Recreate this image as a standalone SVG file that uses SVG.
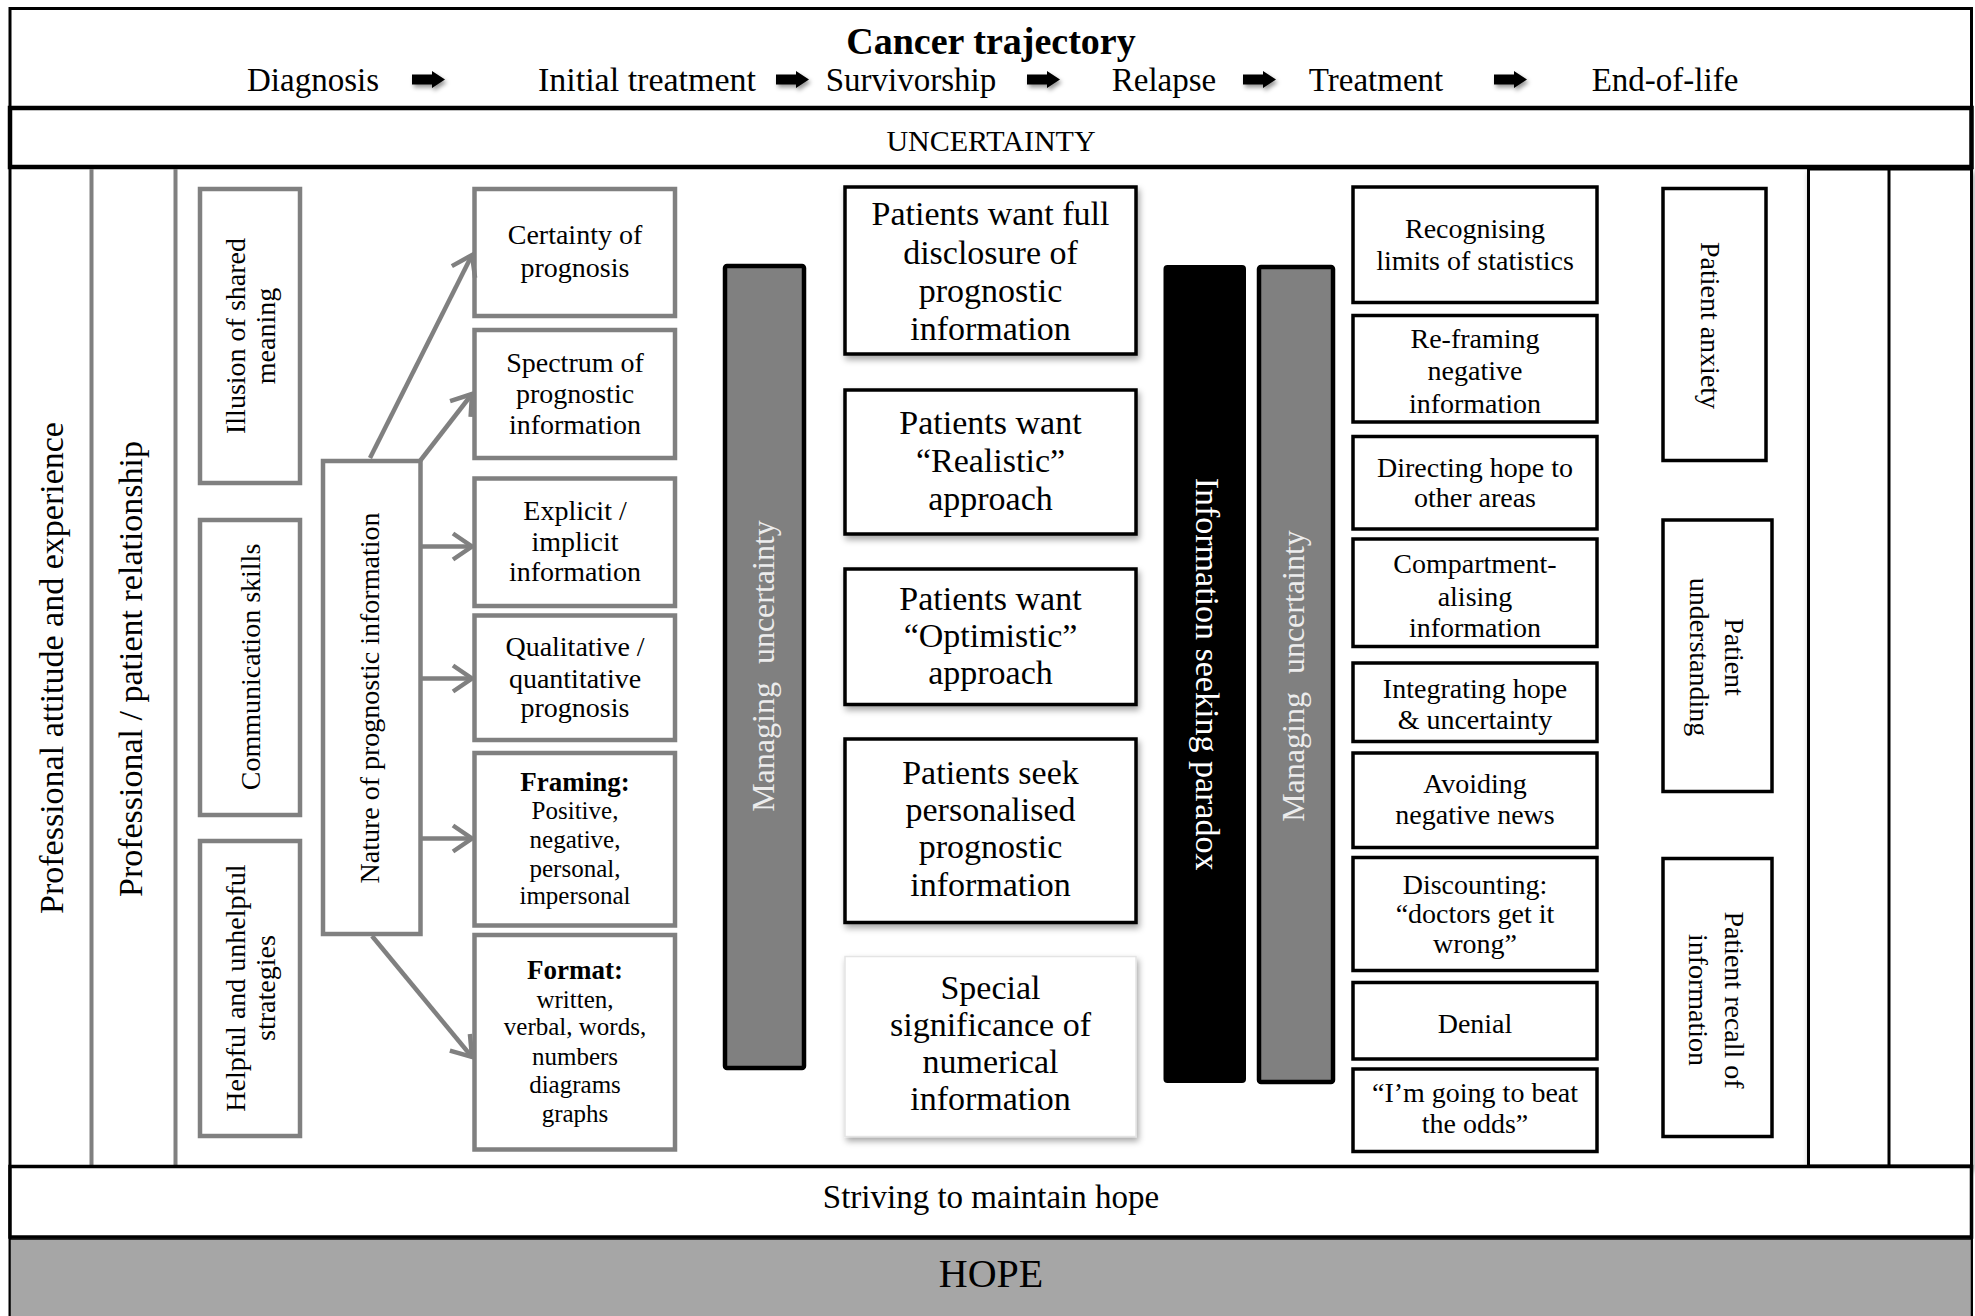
<svg xmlns="http://www.w3.org/2000/svg" width="1975" height="1316" viewBox="0 0 1975 1316">
<defs>
<style>
text{font-family:"Liberation Serif","Times New Roman",serif;fill:#000}
.c{text-anchor:middle}
.f28{font-size:28px}
.f34{font-size:34px}
.gbox{fill:#fff;stroke:#808080;stroke-width:4.5}
.bbox{fill:#fff;stroke:#000;stroke-width:3.5}
.cbox{fill:#fff;stroke:#000;stroke-width:3.5}
.conn{fill:none;stroke:#808080;stroke-width:4.5}
.wt{fill:#ececec}
</style>
<filter id="sh" x="-10%" y="-10%" width="130%" height="130%">
<feDropShadow dx="2" dy="4" stdDeviation="3" flood-color="#000" flood-opacity="0.35"/>
</filter>
<filter id="ash" x="-30%" y="-60%" width="170%" height="240%">
<feDropShadow dx="2" dy="3" stdDeviation="2" flood-color="#000" flood-opacity="0.4"/>
</filter>
<marker id="ah" viewBox="-22 -16 26 32" refX="0" refY="0" markerWidth="26" markerHeight="32" markerUnits="userSpaceOnUse" orient="auto">
<path d="M-19,-13 L0,0 L-19,13" fill="none" stroke="#808080" stroke-width="4.5" stroke-linejoin="miter"/>
</marker>
<path id="blk" d="M0,-5 L20,-5 L20,-8.5 L33,0 L20,8.5 L20,5 L0,5 Z"/>
</defs>

<rect x="0" y="0" width="1975" height="1316" fill="#fff"/>

<!-- frame -->
<g id="frame">
<rect x="10" y="8.5" width="1961.5" height="1320" fill="none" stroke="#000" stroke-width="3"/>
</g>

<!-- header -->
<g id="header">
<text x="991" y="54" class="c" style="font-size:38px;font-weight:bold">Cancer trajectory</text>
<text x="313" y="91" class="c" style="font-size:33px">Diagnosis</text>
<text x="647" y="91" class="c" style="font-size:34px">Initial treatment</text>
<text x="911" y="91" class="c" style="font-size:33px">Survivorship</text>
<text x="1164" y="91" class="c" style="font-size:33px">Relapse</text>
<text x="1376" y="91" class="c" style="font-size:33px">Treatment</text>
<text x="1665" y="91" class="c" style="font-size:33px">End-of-life</text>
<g filter="url(#ash)">
<use href="#blk" x="412" y="79.5"/>
<use href="#blk" x="776" y="79.5"/>
<use href="#blk" x="1027" y="79.5"/>
<use href="#blk" x="1243" y="79.5"/>
<use href="#blk" x="1494" y="79.5"/>
</g>
</g>

<!-- uncertainty band -->
<g id="uncertainty">
<rect x="10" y="108" width="1961.5" height="59" fill="#fff" stroke="#000" stroke-width="4.5"/>
<text x="991" y="150.5" class="c" style="font-size:30px">UNCERTAINTY</text>
</g>

<!-- left columns -->
<g id="prof-attitude">
<line x1="91.5" y1="169" x2="91.5" y2="1166" stroke="#808080" stroke-width="4"/>
<text transform="translate(63,668) rotate(-90)" class="c f34">Professional attitude and experience</text>
</g>
<g id="prof-relationship">
<line x1="175.5" y1="169" x2="175.5" y2="1166" stroke="#808080" stroke-width="4"/>
<text transform="translate(142,669) rotate(-90)" class="c f34">Professional / patient relationship</text>
</g>

<!-- right columns -->
<g id="right-columns">
<rect x="1808.5" y="169" width="163" height="997" fill="#fff" stroke="#000" stroke-width="3" filter="url(#sh)"/>
<line x1="1889" y1="169" x2="1889" y2="1166" stroke="#000" stroke-width="3"/>
</g>

<!-- left small boxes -->
<g id="illusion">
<rect x="200" y="189" width="100" height="294" class="gbox"/>
<text transform="translate(245,336) rotate(-90)" class="c f28"><tspan x="0" y="0">Illusion of shared</tspan><tspan x="0" y="30">meaning</tspan></text>
</g>
<g id="communication">
<rect x="200" y="520" width="100" height="295" class="gbox"/>
<text transform="translate(260,667) rotate(-90)" class="c f28">Communication skills</text>
</g>
<g id="helpful">
<rect x="200" y="841" width="100" height="295" class="gbox"/>
<text transform="translate(244.5,988) rotate(-90)" class="c f28"><tspan x="0" y="0">Helpful and unhelpful</tspan><tspan x="0" y="30">strategies</tspan></text>
</g>
<g id="nature">
<rect x="323" y="461" width="97.5" height="473" class="gbox"/>
<text transform="translate(379,698) rotate(-90)" class="c f28">Nature of prognostic information</text>
</g>

<g id="certainty">
<rect x="474.5" y="189" width="200.5" height="127" class="gbox"/>
<text x="575" y="244" class="c f28">Certainty of</text>
<text x="575" y="277" class="c f28">prognosis</text>
</g>
<g id="spectrum">
<rect x="474.5" y="330" width="200.5" height="128" class="gbox"/>
<text x="575" y="372" class="c f28">Spectrum of</text>
<text x="575" y="403" class="c f28">prognostic</text>
<text x="575" y="434" class="c f28">information</text>
</g>
<g id="explicit">
<rect x="474.5" y="478.5" width="200.5" height="127.5" class="gbox"/>
<text x="575" y="520" class="c f28">Explicit /</text>
<text x="575" y="551" class="c f28">implicit</text>
<text x="575" y="581" class="c f28">information</text>
</g>
<g id="qualitative">
<rect x="474.5" y="615.5" width="200.5" height="124.5" class="gbox"/>
<text x="575" y="656" class="c f28">Qualitative /</text>
<text x="575" y="688" class="c f28">quantitative</text>
<text x="575" y="717" class="c f28">prognosis</text>
</g>
<g id="framing">
<rect x="474.5" y="753" width="200.5" height="172.5" class="gbox"/>
<text x="575" y="791" class="c" style="font-size:27px;font-weight:bold">Framing:</text>
<text x="575" y="819" class="c" style="font-size:25px">Positive,</text>
<text x="575" y="848" class="c" style="font-size:25px">negative,</text>
<text x="575" y="877" class="c" style="font-size:25px">personal,</text>
<text x="575" y="904" class="c" style="font-size:25px">impersonal</text>
</g>
<g id="format">
<rect x="474.5" y="935" width="200.5" height="214.5" class="gbox"/>
<text x="575" y="979" class="c" style="font-size:27px;font-weight:bold">Format:</text>
<text x="575" y="1008" class="c" style="font-size:25px">written,</text>
<text x="575" y="1035" class="c" style="font-size:25px">verbal, words,</text>
<text x="575" y="1065" class="c" style="font-size:25px">numbers</text>
<text x="575" y="1093" class="c" style="font-size:25px">diagrams</text>
<text x="575" y="1122" class="c" style="font-size:25px">graphs</text>
</g>

<!-- connectors -->
<g id="connectors">
<line x1="370" y1="458" x2="472" y2="255" class="conn" marker-end="url(#ah)"/>
<line x1="420" y1="461" x2="472" y2="394" class="conn" marker-end="url(#ah)"/>
<line x1="420" y1="546.5" x2="472" y2="546.5" class="conn" marker-end="url(#ah)"/>
<line x1="420" y1="678.5" x2="472" y2="678.5" class="conn" marker-end="url(#ah)"/>
<line x1="420" y1="838.5" x2="472" y2="838.5" class="conn" marker-end="url(#ah)"/>
<line x1="372" y1="936" x2="472" y2="1057" class="conn" marker-end="url(#ah)"/>
</g>

<!-- managing uncertainty bar 1 -->
<g id="managing-1">
<rect x="725" y="266" width="79" height="802" rx="2" fill="#808080" stroke="#000" stroke-width="4.5"/>
<text transform="translate(774,666) rotate(-90)" class="c wt" style="font-size:32px;word-spacing:10px">Managing uncertainty</text>
</g>

<!-- center boxes -->
<g id="full-disclosure">
<rect x="845" y="187" width="291" height="167" class="cbox" filter="url(#sh)"/>
<text x="990.5" y="225" class="c f34">Patients want full</text>
<text x="990.5" y="264" class="c f34">disclosure of</text>
<text x="990.5" y="302" class="c f34">prognostic</text>
<text x="990.5" y="340" class="c f34">information</text>
</g>
<g id="realistic">
<rect x="845" y="390" width="291" height="144" class="cbox" filter="url(#sh)"/>
<text x="990.5" y="434" class="c f34">Patients want</text>
<text x="990.5" y="472" class="c f34">“Realistic”</text>
<text x="990.5" y="510" class="c f34">approach</text>
</g>
<g id="optimistic">
<rect x="845" y="569" width="291" height="135.5" class="cbox" filter="url(#sh)"/>
<text x="990.5" y="610" class="c f34">Patients want</text>
<text x="990.5" y="647" class="c f34">“Optimistic”</text>
<text x="990.5" y="684" class="c f34">approach</text>
</g>
<g id="personalised">
<rect x="845" y="739" width="291" height="183.5" class="cbox" filter="url(#sh)"/>
<text x="990.5" y="784" class="c f34">Patients seek</text>
<text x="990.5" y="821" class="c f34">personalised</text>
<text x="990.5" y="858" class="c f34">prognostic</text>
<text x="990.5" y="896" class="c f34">information</text>
</g>
<g id="special">
<rect x="845" y="956.5" width="291" height="180" fill="#fff" stroke="#e4e4e4" stroke-width="1.5" filter="url(#sh)"/>
<text x="990.5" y="999" class="c f34">Special</text>
<text x="990.5" y="1036" class="c f34">significance of</text>
<text x="990.5" y="1073" class="c f34">numerical</text>
<text x="990.5" y="1110" class="c f34">information</text>
</g>

<!-- information seeking paradox -->
<g id="info-paradox">
<rect x="1163.5" y="265" width="82.5" height="818" rx="4" fill="#000"/>
<text transform="translate(1196,674) rotate(90)" class="c f34" style="fill:#fff">Information seeking paradox</text>
</g>

<!-- managing uncertainty bar 2 -->
<g id="managing-2">
<rect x="1259" y="267" width="74" height="815" rx="2" fill="#808080" stroke="#000" stroke-width="4.5"/>
<text transform="translate(1304,676) rotate(-90)" class="c wt" style="font-size:32px;word-spacing:10px">Managing uncertainty</text>
</g>

<!-- right strategy boxes -->
<g id="recognising">
<rect x="1353" y="187" width="244" height="115.5" class="bbox"/>
<text x="1475" y="238" class="c f28">Recognising</text>
<text x="1475" y="270" class="c f28">limits of statistics</text>
</g>
<g id="reframing">
<rect x="1353" y="315.5" width="244" height="106.5" class="bbox"/>
<text x="1475" y="347.5" class="c f28">Re-framing</text>
<text x="1475" y="380" class="c f28">negative</text>
<text x="1475" y="412.5" class="c f28">information</text>
</g>
<g id="directing">
<rect x="1353" y="436.5" width="244" height="92.5" class="bbox"/>
<text x="1475" y="477" class="c f28">Directing hope to</text>
<text x="1475" y="507" class="c f28">other areas</text>
</g>
<g id="compartment">
<rect x="1353" y="539" width="244" height="107.5" class="bbox"/>
<text x="1475" y="573" class="c f28">Compartment-</text>
<text x="1475" y="606" class="c f28">alising</text>
<text x="1475" y="637" class="c f28">information</text>
</g>
<g id="integrating">
<rect x="1353" y="663" width="244" height="78.5" class="bbox"/>
<text x="1475" y="698" class="c f28">Integrating hope</text>
<text x="1475" y="729" class="c f28">&amp; uncertainty</text>
</g>
<g id="avoiding">
<rect x="1353" y="753" width="244" height="94.5" class="bbox"/>
<text x="1475" y="793" class="c f28">Avoiding</text>
<text x="1475" y="824" class="c f28">negative news</text>
</g>
<g id="discounting">
<rect x="1353" y="857.5" width="244" height="113" class="bbox"/>
<text x="1475" y="894" class="c f28">Discounting:</text>
<text x="1475" y="923" class="c f28">“doctors get it</text>
<text x="1475" y="953" class="c f28">wrong”</text>
</g>
<g id="denial">
<rect x="1353" y="982.5" width="244" height="76.5" class="bbox"/>
<text x="1475" y="1033" class="c f28">Denial</text>
</g>
<g id="beat-odds">
<rect x="1353" y="1069" width="244" height="82.5" class="bbox"/>
<text x="1475" y="1102" class="c f28">“I’m going to beat</text>
<text x="1475" y="1133" class="c f28">the odds”</text>
</g>

<!-- patient boxes -->
<g id="anxiety">
<rect x="1663" y="188.5" width="103" height="272" class="bbox"/>
<text transform="translate(1701,325.5) rotate(90)" class="c f28">Patient anxiety</text>
</g>
<g id="understanding">
<rect x="1663" y="520" width="109" height="271.5" class="bbox"/>
<text transform="translate(1725,657) rotate(90)" class="c f28">Patient</text>
<text transform="translate(1690,657) rotate(90)" class="c f28">understanding</text>
</g>
<g id="recall">
<rect x="1663" y="858.5" width="109" height="278" class="bbox"/>
<text transform="translate(1725,1000) rotate(90)" class="c f28">Patient recall of</text>
<text transform="translate(1689,1000) rotate(90)" class="c f28">information</text>
</g>

<!-- striving band -->
<g id="striving">
<rect x="10" y="1166.5" width="1961.5" height="70.5" fill="#fff" stroke="#000" stroke-width="3.5"/>
<text x="991" y="1208" class="c" style="font-size:33px">Striving to maintain hope</text>
</g>

<!-- hope band -->
<g id="hope">
<rect x="10" y="1239" width="1961.5" height="80" fill="#a6a6a6" stroke="#000" stroke-width="1.5"/>
<text x="991" y="1287" class="c" style="font-size:40px">HOPE</text>
</g>
</svg>
